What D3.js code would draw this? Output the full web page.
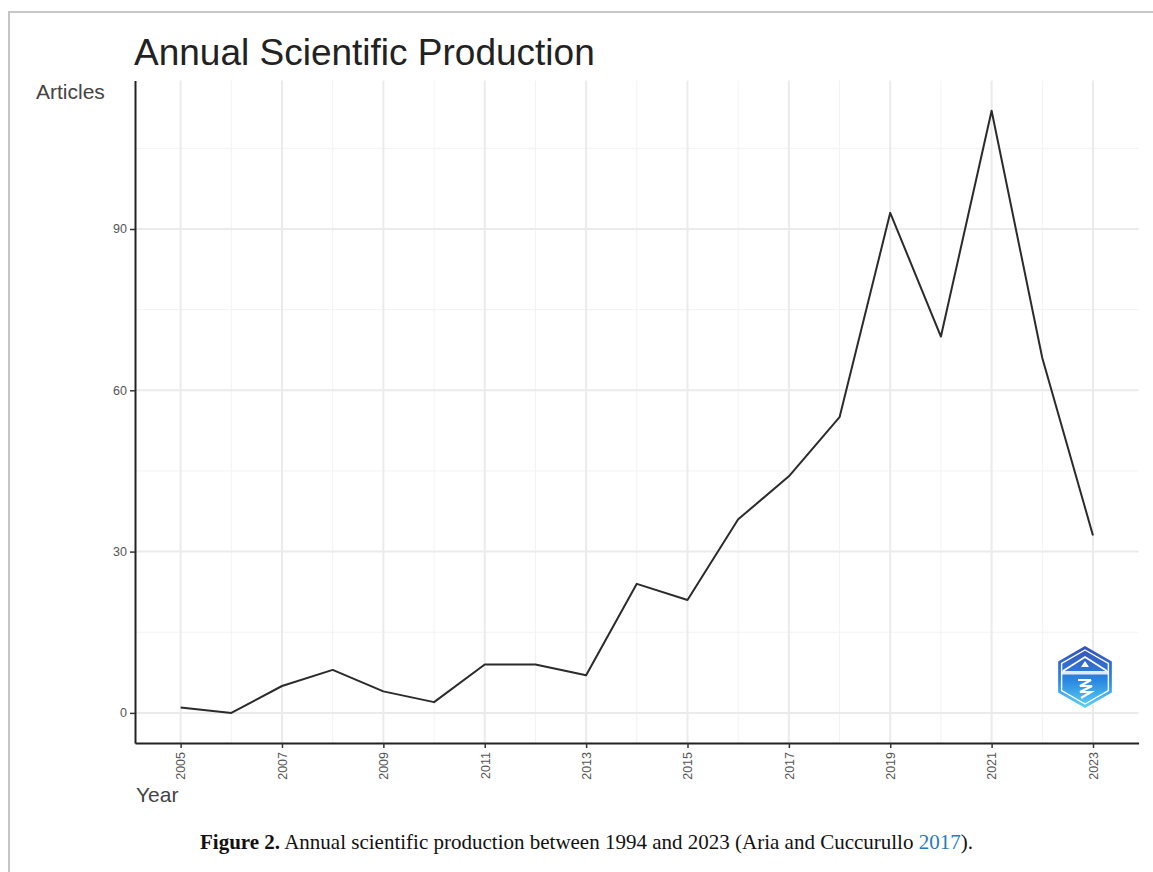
<!DOCTYPE html>
<html>
<head>
<meta charset="utf-8">
<script src="https://cdn.jsdelivr.net/npm/d3@7"></script>
<style>
  html, body { margin: 0; padding: 0; background: #fff; }
  svg { display: block; }
</style>
</head>
<body>
<svg id="chart" width="1153" height="872"></svg>
<script>
// Annual article counts
const years = [2005, 2006, 2007, 2008, 2009, 2010, 2011, 2012, 2013, 2014,
               2015, 2016, 2017, 2018, 2019, 2020, 2021, 2022, 2023];
const articles = [1, 0, 5, 8, 4, 2, 9, 9, 7, 24, 21, 36, 44, 55, 93, 70, 112, 66, 33];

// Axis breaks
const yMajor = [0, 30, 60, 90];
const yMinor = [15, 45, 75, 105];
const xMajor = [2005, 2007, 2009, 2011, 2013, 2015, 2017, 2019, 2021, 2023];
const xMinor = [2006, 2008, 2010, 2012, 2014, 2016, 2018, 2020, 2022];

const titleText = "Annual Scientific Production";
const yTitle = "Articles";
const xTitle = "Year";
const captionBold = "Figure 2.";
const captionText = " Annual scientific production between 1994 and 2023 (Aria and Cuccurullo ";
const captionRef = "2017";
const captionEnd = ").";

const svg = d3.select("#chart");
const sans = "'Liberation Sans', Arial, Helvetica, sans-serif";

// Panel bounds
const panel = { left: 135, right: 1138.6, top: 80.6, bottom: 743 };

// ggplot-style 5% expansion of the data range
const yMax = d3.max(articles), yMin = d3.min(articles);
const yPad = (yMax - yMin) * 0.05;
const xPad = (d3.max(years) - d3.min(years)) * 0.05;

const x = d3.scaleLinear()
  .domain([d3.min(years) - xPad, d3.max(years) + xPad])
  .range([panel.left, panel.right]);
const y = d3.scaleLinear()
  .domain([yMin - yPad, yMax + yPad])
  .range([panel.bottom, panel.top]);

// Outer frame (top and left edges)
svg.append("path")
  .attr("d", `M9,872 V12 H1153`)
  .attr("fill", "none")
  .attr("stroke", "#c6c6c6")
  .attr("stroke-width", 2);

// Grid
const grid = svg.append("g");
grid.selectAll(".ymin").data(yMinor).join("line")
  .attr("x1", panel.left).attr("x2", panel.right)
  .attr("y1", d => y(d)).attr("y2", d => y(d))
  .attr("stroke", "#f3f3f3").attr("stroke-width", 1);
grid.selectAll(".xmin").data(xMinor).join("line")
  .attr("x1", d => x(d)).attr("x2", d => x(d))
  .attr("y1", panel.top).attr("y2", panel.bottom)
  .attr("stroke", "#f3f3f3").attr("stroke-width", 1);
grid.selectAll(".ymaj").data(yMajor).join("line")
  .attr("x1", panel.left).attr("x2", panel.right)
  .attr("y1", d => y(d)).attr("y2", d => y(d))
  .attr("stroke", "#ebebeb").attr("stroke-width", 2);
grid.selectAll(".xmaj").data(xMajor).join("line")
  .attr("x1", d => x(d)).attr("x2", d => x(d))
  .attr("y1", panel.top).attr("y2", panel.bottom)
  .attr("stroke", "#ebebeb").attr("stroke-width", 2);

// Logo badge in the lower right of the panel
const defs = svg.append("defs");
const grad = defs.append("linearGradient").attr("id", "badge")
  .attr("x1", 0).attr("y1", 0).attr("x2", 0).attr("y2", 1);
grad.append("stop").attr("offset", "0%").attr("stop-color", "#3a4fb8");
grad.append("stop").attr("offset", "55%").attr("stop-color", "#2a86e0");
grad.append("stop").attr("offset", "100%").attr("stop-color", "#5fd3f7");

const badge = svg.append("g").attr("transform", "translate(1085,677)");
const hex = r => d3.range(6).map(i => {
  const a = Math.PI / 3 * i - Math.PI / 2;
  return [r * Math.cos(a), r * Math.sin(a)];
});
badge.append("polygon")
  .attr("points", hex(31).map(p => p.join(",")).join(" "))
  .attr("fill", "url(#badge)");
badge.append("polygon")
  .attr("points", hex(27).map(p => p.join(",")).join(" "))
  .attr("fill", "none").attr("stroke", "#fff").attr("stroke-width", 1.4);
badge.append("path")
  .attr("d", "M-22,-6 L0,-20 L22,-6")
  .attr("fill", "none").attr("stroke", "#fff").attr("stroke-width", 1.8);
badge.append("path")
  .attr("d", "M-4,-10 L0,-16 L4,-10 Z")
  .attr("fill", "#fff");
badge.append("rect")
  .attr("x", -24).attr("y", -6).attr("width", 48).attr("height", 3.5)
  .attr("fill", "#fff").attr("opacity", 0.85);
badge.append("path")
  .attr("d", "M-7,3 H6 L-5,9 H7 L-5,15 H6 L-4,21")
  .attr("fill", "none").attr("stroke", "#fff").attr("stroke-width", 2.2);

// Data line
const line = d3.line().x((d, i) => x(years[i])).y(d => y(d));
svg.append("path")
  .datum(articles)
  .attr("d", line)
  .attr("fill", "none")
  .attr("stroke", "#2b2b2b")
  .attr("stroke-width", 2)
  .attr("stroke-linejoin", "round");

// Axes
const yAxis = svg.append("g")
  .attr("transform", `translate(${panel.left},0)`)
  .call(d3.axisLeft(y).tickValues(yMajor).tickSize(5).tickPadding(3).tickSizeOuter(0));
const xAxis = svg.append("g")
  .attr("transform", `translate(0,${panel.bottom})`)
  .call(d3.axisBottom(x).tickValues(xMajor).tickFormat(d3.format("d")).tickSize(5).tickSizeOuter(0));

[yAxis, xAxis].forEach(g => {
  g.select(".domain").attr("stroke", "#222").attr("stroke-width", 2);
  g.selectAll(".tick line").attr("stroke", "#333").attr("stroke-width", 1.5);
  g.selectAll("text").attr("fill", "#555").style("font-family", sans).style("font-size", "12.5px");
});
xAxis.selectAll(".tick text")
  .attr("transform", "rotate(-90)")
  .attr("text-anchor", "end")
  .attr("x", -9)
  .attr("y", 0)
  .attr("dy", "0.35em");

// Titles
svg.append("text")
  .attr("x", 134).attr("y", 65)
  .attr("fill", "#222")
  .style("font-family", sans).style("font-size", "37px")
  .text(titleText);
svg.append("text")
  .attr("x", 36).attr("y", 99)
  .attr("fill", "#444")
  .style("font-family", sans).style("font-size", "21px")
  .text(yTitle);
svg.append("text")
  .attr("x", 136).attr("y", 802)
  .attr("fill", "#444")
  .style("font-family", sans).style("font-size", "21px")
  .text(xTitle);

// Figure caption
const cap = svg.append("text")
  .attr("x", 200).attr("y", 849)
  .attr("fill", "#111")
  .style("font-family", "'Liberation Serif', 'Times New Roman', serif")
  .style("font-size", "21px");
cap.append("tspan").attr("font-weight", "bold").text(captionBold);
cap.append("tspan").text(captionText);
cap.append("tspan").attr("fill", "#2a7ab8").text(captionRef);
cap.append("tspan").text(captionEnd);
</script>
</body>
</html>
